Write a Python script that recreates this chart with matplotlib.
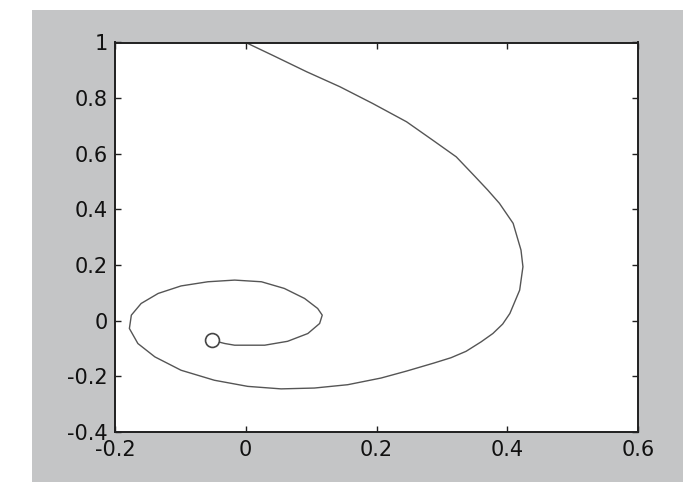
import numpy as np
import matplotlib.pyplot as plt
from matplotlib.patches import Rectangle
from matplotlib.ticker import FixedLocator, FuncFormatter

plt.rcParams['font.family'] = ['DejaVu Sans']
plt.rcParams['axes.unicode_minus'] = False

# trayectoria en el plano de fase (x, y), desde (0, 1) hasta el punto final
traj_x = [0.0, 0.042, 0.093, 0.144, 0.194, 0.246, 0.286, 0.322, 0.350, 0.370,
          0.388, 0.409, 0.421, 0.424, 0.419, 0.404, 0.393, 0.378, 0.360, 0.337,
          0.314, 0.288, 0.246, 0.207, 0.156, 0.105, 0.054, 0.003, -0.048, -0.099,
          -0.139, -0.165, -0.178, -0.175, -0.160, -0.134, -0.099, -0.058, -0.017,
          0.024, 0.059, 0.090, 0.110, 0.117, 0.113, 0.095, 0.064, 0.029, -0.017,
          -0.032, -0.052]
traj_y = [1.0, 0.953, 0.895, 0.841, 0.781, 0.715, 0.649, 0.589, 0.520, 0.470,
          0.422, 0.350, 0.254, 0.194, 0.110, 0.026, -0.012, -0.046, -0.076, -0.110,
          -0.133, -0.152, -0.181, -0.206, -0.230, -0.242, -0.245, -0.236, -0.214, -0.178,
          -0.130, -0.082, -0.028, 0.020, 0.062, 0.098, 0.125, 0.140, 0.146,
          0.140, 0.116, 0.080, 0.044, 0.020, -0.010, -0.046, -0.074, -0.088, -0.088,
          -0.082, -0.070]

x_ticks = [-0.2, 0, 0.2, 0.4, 0.6]
y_ticks = [-0.4, -0.2, 0, 0.2, 0.4, 0.6, 0.8, 1]

fig = plt.figure(figsize=(6.83, 4.82), dpi=100, facecolor='white')
# fondo gris de la ventana
fig.patches.append(Rectangle((32 / 683, 0), 1, 472 / 482, transform=fig.transFigure,
                             facecolor='#c4c5c6', edgecolor='none', zorder=-10))

ax = fig.add_axes([115 / 683, 50 / 482, 523 / 683, 389.5 / 482])
ax.set_facecolor('white')

ax.plot(traj_x, traj_y, color='#555555', lw=1.0, zorder=2)
# punto final marcado con un circulo
ax.plot(traj_x[-1], traj_y[-1], 'o', ms=10, mfc='white', mec='#454545', mew=1.2, zorder=3)

ax.set_xlim(-0.2, 0.6)
ax.set_ylim(-0.4, 1)
ax.xaxis.set_major_locator(FixedLocator(x_ticks))
ax.yaxis.set_major_locator(FixedLocator(y_ticks))
fmt = FuncFormatter(lambda v, pos: '%g' % v)
ax.xaxis.set_major_formatter(fmt)
ax.yaxis.set_major_formatter(fmt)

ax.tick_params(direction='in', length=4, width=1.0, top=True, right=True,
               labelsize=15, labelcolor='#111111', color='#202020')
ax.tick_params(axis='x', pad=6)
ax.tick_params(axis='y', pad=5)
for s in ax.spines.values():
    s.set_linewidth(1.4)
    s.set_color('#202020')

plt.savefig('out.png', dpi=100, facecolor=fig.get_facecolor())
